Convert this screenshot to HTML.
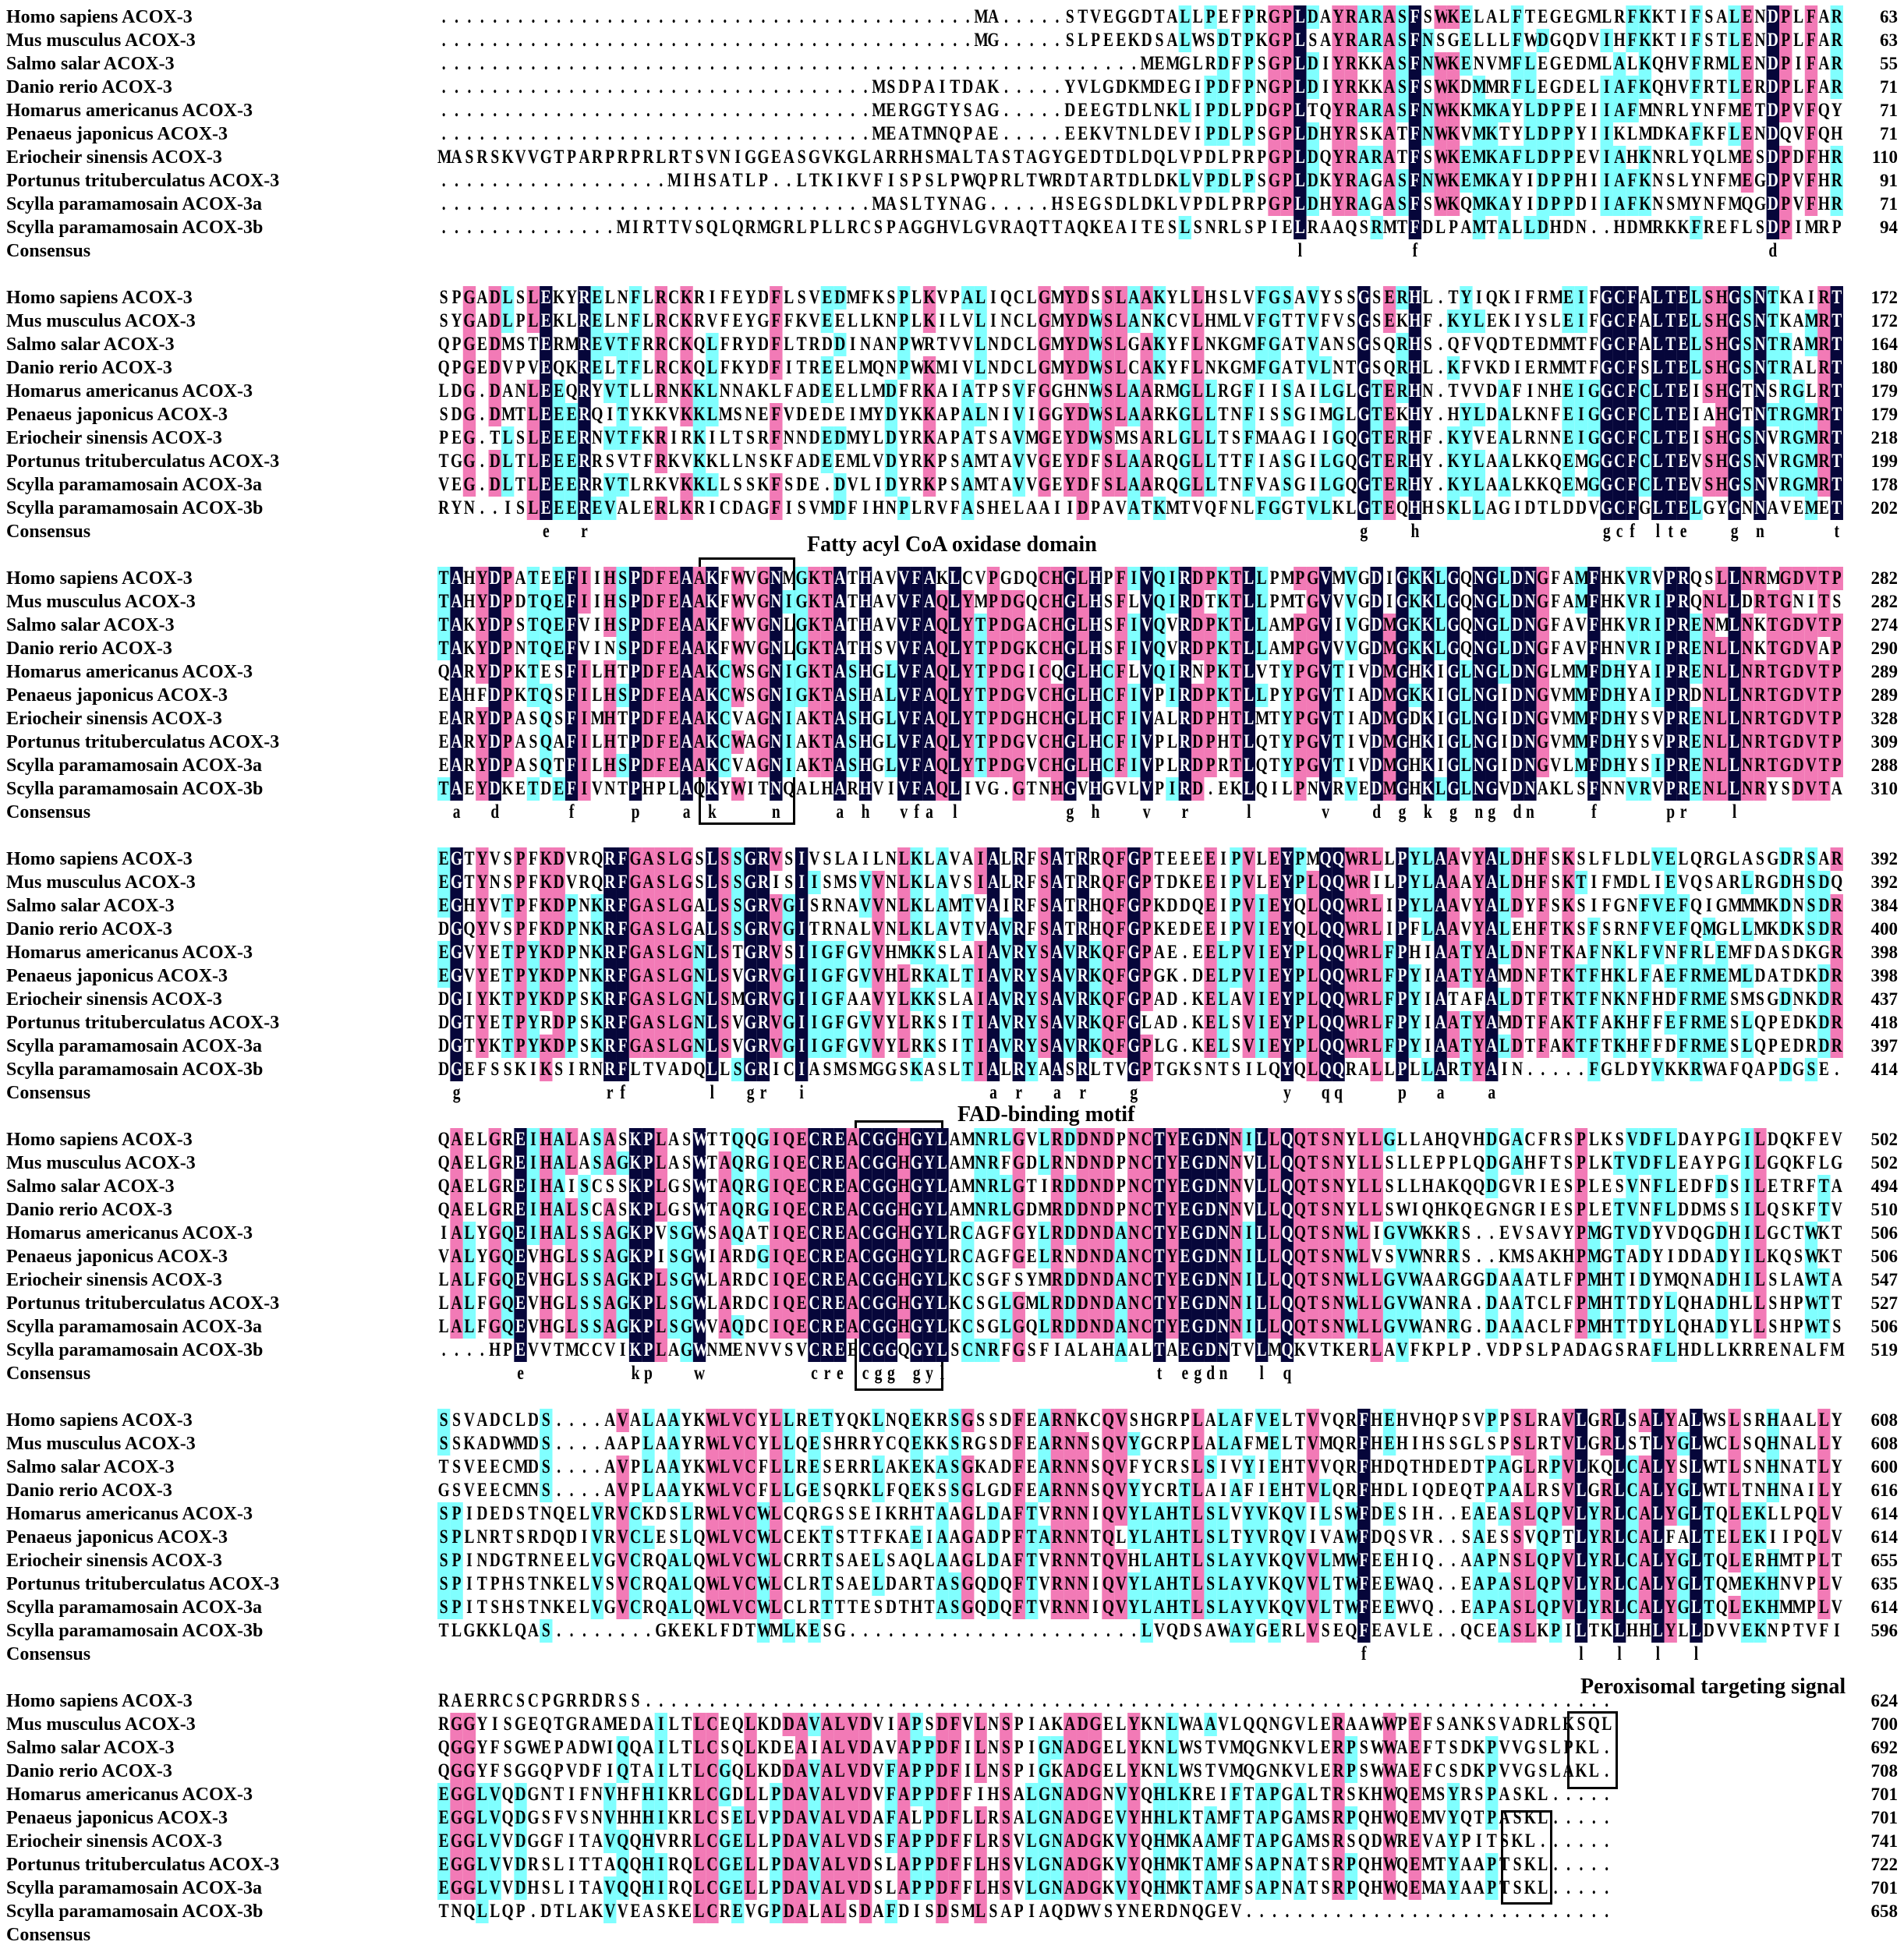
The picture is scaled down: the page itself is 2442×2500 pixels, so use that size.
<!DOCTYPE html>
<html><head><meta charset="utf-8">
<style>
html,body{margin:0;padding:0;background:#fff;}
#fig{position:relative;width:2442px;height:2500px;overflow:hidden;background:#fff;font-family:"Liberation Serif",serif;font-weight:bold;color:#000;}
.name{position:absolute;left:8px;height:30px;line-height:30px;font-size:24px;white-space:nowrap;transform:scaleX(1.0);transform-origin:left center;}
.num{position:absolute;right:8px;height:30px;line-height:30px;font-size:23px;text-align:right;}
.row{position:absolute;left:561px;height:30px;width:2310px;transform:scaleX(0.7805);transform-origin:left top;white-space:nowrap;font-size:25px;line-height:30px;}
.row span{display:inline-block;width:21px;height:30px;text-align:center;vertical-align:top;}
.nv{background:#06063a;color:#fff;}
.pk{background:#f27ab6;}
.cy{background:#80ffff;}
.box{position:absolute;border:3px solid #000;box-sizing:border-box;}
.ann{position:absolute;font-size:28px;white-space:nowrap;}
</style></head>
<body>
<div id="fig">
<div class="ann" style="left:1035px;top:683px;">Fatty acyl CoA oxidase domain</div>
<div class="box" style="left:896px;top:715px;width:124px;height:343px;"></div>
<div class="ann" style="left:1228px;top:1414px;">FAD-binding motif</div>
<div class="box" style="left:1096px;top:1437px;width:114px;height:347px;"></div>
<div class="ann" style="left:2027px;top:2148px;">Peroxisomal targeting signal</div>
<div class="box" style="left:2010px;top:2195px;width:65px;height:100px;"></div>
<div class="box" style="left:1925px;top:2322px;width:66px;height:121px;"></div>
</div>
<script>
const names=["Homo sapiens ACOX-3","Mus musculus ACOX-3","Salmo salar ACOX-3","Danio rerio ACOX-3","Homarus americanus ACOX-3","Penaeus japonicus ACOX-3","Eriocheir sinensis ACOX-3","Portunus trituberculatus ACOX-3","Scylla paramamosain ACOX-3a","Scylla paramamosain ACOX-3b"];
const block1=[
"MA.....STVEGGDTALLPEFPRGPLDAYRARASFSWKELALFTEGEGMLRFKKTIFSALENDPLFAR",
"MG.....SLPEEKDSALWSDTPKGPLSAYRARASFNSGELLLFWDGQDVIHFKKTIFSTLENDPLFAR",
"MEMGLRDFPSGPLDIYRKKASFNWKENVMFLEGEDMLALKQHVFRMLENDPIFAR",
"MSDPAITDAK.....YVLGDKMDEGIPDFPNGPLDIYRKKASFSWKDMMRFLEGDELIAFKQHVFRTLERDPLFAR",
"MERGGTYSAG.....DEEGTDLNKLIPDLPDGPLTQYRARASFNWKKMKAYLDPPEIIAFMNRLYNFMETDPVFQY",
"MEATMNQPAE.....EEKVTNLDEVIPDLPSGPLDHYRSKATFNWKVMKTYLDPPYIIKLMDKAFKFLENDQVFQH",
"MASRSKVVGTPARPRPRLRTSVNIGGEASGVKGLARRHSMALTASTAGYGEDTDLDQLVPDLPRPGPLDQYRARATFSWKEMKAFLDPPEVIAHKNRLYQLMESDPDFHR",
"MIHSATLP..LTKIKVFISPSLPWQPRLTWRDTARTDLDKLVPDLPSGPLDKYRAGASFNWKEMKAYIDPPHIIAFKNSLYNFMEGDPVFHR",
"MASLTYNAG.....HSEGSDLDKLVPDLPRPGPLDHYRAGASFSWKQMKAYIDPPDIIAFKNSMYNFMQGDPVFHR",
"MIRTTVSQLQRMGRLPLLRCSPAGGHVLGVRAQTTAQKEAITESLSNRLSPIELRAAQSRMTFDLPAMTALLDHDN..HDMRKKFREFLSDPIMRP"];
const block2=[
"SPGADLSLEKYRELNFLRCKRIFEYDFLSVEDMFKSPLKVPALIQCLGMYDSSLAAKYLLHSLVFGSAVYSSGSERHL.TYIQKIFRMEIFGCFALTELSHGSNTKAIRT",
"SYGADLPLEKLRELNFLRCKRVFEYGFFKVEELLKNPLKILVLINCLGMYDWSLANKCVLHMLVFGTTVFVSGSEKHF.KYLEKIYSLEIFGCFALTELSHGSNTKAMRT",
"QPGEDMSTERMREVTFRRCKQLFRYDFLTRDDINANPWRTVVLNDCLGMYDWSLGAKYFLNKGMFGATVANSGSQRHS.QFVQDTEDMMTFGCFALTELSHGSNTRAMRT",
"QPGEDVPVEQKRELTFLRCKQLFKYDFITREELMQNPWKMIVLNDCLGMYDWSLCAKYFLNKGMFGATVLNTGSQRHL.KFVKDIERMMTFGCFSLTELSHGSNTRALRT",
"LDG.DANLEEQRYVTLLRNKKLNNAKLFADEELLMDFRKAIATPSVFGGHNWSLAARMGLLRGFIISAILGLGTERHN.TVVDAFINHEIGGCFCLTEISHGTNSRGLRT",
"SDG.DMTLEEERQITYKKVKKLMSNEFVDEDEIMYDYKKAPALNIVIGGYDWSLAARKGLLTNFISSGIMGLGTEKHY.HYLDALKNFEIGGCFCLTEIAHGTNTRGMRT",
"PEG.TLSLEEERNVTFKRIRKILTSRFNNDEDMYLDYRKAPATSAVMGEYDWSMSARLGLLTSFMAAGIIGQGTERHF.KYVEALRNNEIGGCFCLTEISHGSNVRGMRT",
"TGG.DLTLEEERRSVTFRKVKKLLNSKFADEEMLVDYRKPSAMTAVVGEYDFSLAARQGLLTTFIASGILGQGTERHY.KYLAALKKQEMGGCFCLTEVSHGSNVRGMRT",
"VEG.DLTLEEERRVTLRKVKKLLSSKFSDE.DVLIDYRKPSAMTAVVGEYDFSLAARQGLLTNFVASGILGQGTERHY.KYLAALKKQEMGGCFCLTEVSHGSNVRGMRT",
"RYN..ISLEEEREVALERLKRICDAGFISVMDFIHNPLRVFASHELAAIIDPAVATKMTVQFNLFGGTVLKLGTEQHHSKLLAGIDTLDDVGCFGLTELGYGNNAVEMET"];
const block3=[
"TAHYDPATEEFIIHSPDFEAAKFWVGNMGKTATHAVVFAKLCVPGDQCHGLHPFIVQIRDPKTLLPMPGVMVGDIGKKLGQNGLDNGFAMFHKVRVPRQSLLNRMGDVTP",
"TAHYDPDTQEFIIHSPDFEAAKFWVGNIGKTATHAVVFAQLYMPDGQCHGLHSFLVQIRDTKTLLPMTGVVVGDIGKKLGQNGLDNGFAMFHKVRIPRQNLLDRTGNITS",
"TAKYDPSTQEFVIHSPDFEAAKFWVGNLGKTATHAVVFAQLYTPDGACHGLHSFIVQVRDPKTLLAMPGVIVGDMGKKLGQNGLDNGFAVFHKVRIPRENMLNKTGDVTP",
"TAKYDPNTQEFVINSPDFEAAKFWVGNLGKTATHSVVFAQLYTPDGKCHGLHSFIVQVRDPKTLLAMPGVVVGDMGKKLGQNGLDNGFAVFHNVRIPRENLLNKTGDVAP",
"QARYDPKTESFILHTPDFEAAKCWSGNIGKTASHGLVFAQLYTPDGICQGLHCFLVQIRNPKTLVTYPGVTIVDMGHKIGLNGLDNGLMMFDHYAIPRENLLNRTGDVTP",
"EAHFDPKTQSFILHSPDFEAAKCWSGNIGKTASHALVFAQLYTPDGVCHGLHCFIVPIRDPKTLLPYPGVTIADMGKKIGLNGIDNGVMMFDHYAIPRDNLLNRTGDVTP",
"EARYDPASQSFIMHTPDFEAAKCVAGNIAKTASHGLVFAQLYTPDGHCHGLHCFIVALRDPHTLMTYPGVTIADMGDKIGLNGIDNGVMMFDHYSVPRENLLNRTGDVTP",
"EARYDPASQAFILHTPDFEAAKCWAGNIAKTASHGLVFAQLYTPDGVCHGLHCFIVPLRDPHTLQTYPGVTIVDMGHKIGLNGIDNGVMMFDHYSVPRENLLNRTGDVTP",
"EARYDPASQTFILHSPDFEAAKCVAGNIAKTASHGLVFAQLYTPDGVCHGLHCFIVPLRDPRTLQTYPGVTIVDMGHKIGLNGIDNGVLMFDHYSIPRENLLNRTGDVTP",
"TAEYDKETDEFIVNTPHPLAQKYWITNQALHARHVIVFAQLIVG.GTNHGVHGVLVPIRD.EKLQILPNVRVEDMGHKLGLNGVDNAKLSFNNVRVPRENLLNRYSDVTA"];
const block4=[
"EGTYVSPFKDVRQRFGASLGSLSSGRVSIVSLAILNLKLAVAIALRFSATRRQFGPTEEEEIPVLEYPMQQWRLLPYLAAVYALDHFSKSLFLDLVELQRGLASGDRSAR",
"EGTYNSPFKDVRQRFGASLGSLSSGRISIISMSVVNLKLAVSIALRFSATRRQFGPTDKEEIPVLEYPLQQWRILPYLAAAYALDHFSKTIFMDLIEVQSARLRGDHSDQ",
"EGHYVTPFKDPNKRFGASLGALSSGRVGISRNAVVNLKLAMTVAIRFSATRHQFGPKDDQEIPVIEYQLQQWRLIPYLAAVYALDYFSKSIFGNFVEFQIGMMMKDNSDR",
"DGQYVSPFKDPNKRFGASLGALSSGRVGITRNALVNLKLAVTVAVRFSATRHQFGPKEDEEIPVIEYQLQQWRLIPFLAAVYALEHFTKSFSRNFVEFQMGLLMKDKSDR",
"EGVYETPYKDPNKRFGASLGNLSTGRVSIIGFGVVHMKKSLAIAVRYSAVRKQFGPAE.EELPVIEYPLQQWRLFPHIAATYALDNFTKAFNKLFVNFRLEMFDASDKGR",
"EGVYETPYKDPNKRFGASLGNLSVGRVGIIGFGVVHLRKALTIAVRYSAVRKQFGPGK.DELPVIEYPLQQWRLFPYIAATYAMDNFTKTFHKLFAEFRMEMLDATDKDR",
"DGIYKTPYKDPSKRFGASLGNLSMGRVGIIGFAAVYLKKSLAIAVRYSAVRKQFGPAD.KELAVIEYPLQQWRLFPYIATAFALDTFTKTFNKNFHDFRMESMSGDNKDR",
"DGTYETPYRDPSKRFGASLGNLSVGRVGIIGFGVVYLRKSITIAVRYSAVRKQFGLAD.KELSVIEYPLQQWRLFPYIAATYAMDTFAKTFAKHFFEFRMESLQPEDKDR",
"DGTYKTPYKDPSKRFGASLGNLSVGRVGIIGFGVVYLRKSITIAVRYSAVRKQFGPLG.KELSVIEYPLQQWRLFPYIAATYALDTFAKTFTKHFFDFRMESLQPEDRDR",
"DGEFSSKIKSIRNRFLTVADQLLSGRICIASMSMGGSKASLTIALRYAASRLTVGPTGKSNTSILQYQLQQRALLPLLARTYAIN.....FGLDYVKKRWAFQAPDGSE."];
const block5=[
"QAELGREIHALASASKPLASWTTQQGIQECREACGGHGYLAMNRLGVLRDDNDPNCTYEGDNNILLQQTSNYLLGLLAHQVHDGACFRSPLKSVDFLDAYPGILDQKFEV",
"QAELGREIHALASAGKPLASWTAQRGIQECREACGGHGYLAMNRFGDLRNDNDPNCTYEGDNNVLLQQTSNYLLSLLEPPLQDGAHFTSPLKTVDFLEAYPGILGQKFLG",
"QAELGREIHAISCSSKPLGSWTAQRGIQECREACGGHGYLAMNRLGTIRDDNDPNCTYEGDNNVLLQQTSNYLLSLLHAKQQDGVRIESPLESVNFLEDFDSILETRFTA",
"QAELGREIHALSCASKPLGSWTAQRGIQECREACGGHGYLAMNRLGDMRDDNDPNCTYEGDNNVLLQQTSNYLLSWIQHKQEGNGRIESPLETVNFLDDMSSILQSKFTV",
"IALYGQEIHALSSAGKPVSGWSAQATIQECREACGGHGYLRCAGFGYLRDDNDANCTYEGDNNILLQQTSNWLIGVWKKRS..EVSAVYPMGTVDYVDQGDHILGCTWKT",
"VALYGQEVHGLSSAGKPISGWIARDGIQECREACGGHGYLRCAGFGELRNDNDANCTYEGDNNILLQQTSNWLVSVWNRRS..KMSAKHPMGTADYIDDADYILKQSWKT",
"LALFGQEVHGLSSAGKPLSGWLARDCIQECREACGGHGYLKCSGFSYMRDDNDANCTYEGDNNILLQQTSNWLLGVWAARGGDAAATLFPMHTIDYMQNADHILSLAWTA",
"LALFGQEVHGLSSAGKPLSGWLARDCIQECREACGGHGYLKCSGLGMLRDDNDANCTYEGDNNILLQQTSNWLLGVWANRA.DAATCLFPMHTTDYLQHADHLLSHPWTT",
"LALFGQEVHGLSSAGKPLSGWVAQDCIQECREACGGHGYLKCSGLGQLRDDNDANCTYEGDNNILLQQTSNWLLGVWANRG.DAAACLFPMHTTDYLQHADYLLSHPWTS",
"....HPEVVTMCCVIKPLAGWNMENVVSVCREECGGQGYLSCNRFGSFIALAHAALTAEGDNTVLMQKVTKERLAVFKPLP.VDPSLPADAGSRAFLHDLLKRRENALFM"];
const block6=[
"SSVADCLDS....AVALAAYKWLVCYLLRETYQKLNQEKRSGSSDFEARNKCQVSHGRPLALAFVELTVVQRFHEHVHQPSVPPSLRAVLGRLSALYALWSLSRHAALLY",
"SSKADWMDS....AAPLAAYRWLVCYLLQESHRRYCQEKKSRGSDFEARNNSQVYGCRPLALAFMELTVMQRFHEHIHSSGLSPSLRTVLGRLSTLYGLWCLSQHNALLY",
"TSVEECMDS....AVPLAAYKWLVCFLLRESERRLAKEKASGKADFEARNNSQVFYCRSLSIVYIEHTVVQRFHDQTHDEDTPAGLRPVLKQLCALYSLWTLSNHNATLY",
"GSVEECMNS....AVPLAAYKWLVCFLLGESQRKLFQEKSSGLGDFEARNNSQVYYCRTLAIAFIEHTVLQRFHDLIQDEQTPAALRSVLGRLCALYGLWTLTNHNAILY",
"SPIDEDSTNQELVRVCKDSLRWLVCWLCQRGSSEIKRHTAAGLDAFTVRNNIQVYLAHTLSLVYVKQVILSWFDESIH..EAEASLQPVLYRLCALYGLTQLEKLLPQLV",
"SPLNRTSRDQDIVRVCLESLQWLVCWLCEKTSTTFKAEIAAGADPFTARNNTQLYLAHTLSLTYVRQVIVAWFDQSVR..SAESSVQPTLYRLCALFALTELEKIIPQLV",
"SPINDGTRNEELVGVCRQALQWLVCWLCRRTSAELSAQLAAGLDAFTVRNNTQVHLAHTLSLAYVKQVVLMWFEEHIQ..AAPNSLQPVLYRLCALYGLTQLERHMTPLT",
"SPITPHSTNKELVSVCRQALQWLVCWLCLRTSAELDARTASGQDQFTVRNNIQVYLAHTLSLAYVKQVVLTWFEEWAQ..EAPASLQPVLYRLCALYGLTQMEKHNVPLV",
"SPITSHSTNKELVGVCRQALQWLVCWLCLRTTTESDTHTASGQDQFTVRNNIQVYLAHTLSLAYVKQVVLTWFEEWVQ..EAPASLQPVLYRLCALYGLTQLEKHMMPLV",
"TLGKKLQAS........GKEKLFDTWMLKESG.......................LVQDSAWAYGERLVSEQFEAVLE..QCEASLKPILTKLHHLYLLDVVEKNPTVFI"];
const block7=[
"RAERRCSCPGRRDRSS",
"RGGYISGEQTGRAMEDAILTLCEQLKDDAVALVDVIAPSDFVLNSPIAKADGELYKNLWAAVLQQNGVLERAAWWPEFSANKSVADRLKSQL",
"QGGYFSGWEPADWIQQAILTLCSQLKDEAIALVDAVAPPDFILNSPIGNADGELYKNLWSTVMQGNKVLERPSWWAEFTSDKPVVGSLPKL",
"QGGYFSGGQPVDFIQTAILTLCGQLKDDAVALVDVFAPPDFILNSPIGKADGELYKNLWSTVMQGNKVLERPSWWAEFCSDKPVVGSLAKL",
"EGGLVQDGNTIFNVHFHIKRLCGDLLPDAVALVDVFAPPDFFIHSALGNADGNVYQHLKREIFTAPGALTRSKHWQEMSYRSPASKL",
"EGGLVQDGSFVSNVHHHIKRLCSELVPDAVALVDAFALPDFLLRSALGNADGEVYHHLKTAMFTAPGAMSRPQHWQEMVYQTPASKL",
"EGGLVVDGGFITAVQQHVRRLCGELLPDAVALVDSFAPPDFFLRSVLGNADGKVYQHMKAAMFTAPGAMSRSQDWREVAYPITSKL",
"EGGLVVDRSLITTAQQHIRQLCGELLPDAVALVDSLAPPDFFLHSVLGNADGKVYQHMKTAMFSAPNATSRPQHWQEMTYAAPTSKL",
"EGGLVVDHSLITAVQQHIRQLCGELLPDAVALVDSLAPPDFFLHSVLGNADGKVYQHMKTAMFSAPNATSRPQHWQEMAYAAPTSKL",
"TNQLLQP.DTLAKVVEASKELCREVGPDALALSDAFDISDSMLSAPIAQDWVSYNERDNQGEV"];
const numbers1=[63,63,55,71,71,71,110,91,71,94];
const numbers2=[172,172,164,180,179,179,218,199,178,202];
const numbers3=[282,282,274,290,289,289,328,309,288,310];
const numbers4=[392,392,384,400,398,398,437,418,397,414];
const numbers5=[502,502,494,510,506,506,547,527,506,519];
const numbers6=[608,608,600,616,614,614,655,635,614,596];
const numbers7=[624,700,692,708,701,701,741,722,701,658];

const blocks=[block1,block2,block3,block4,block5,block6,block7];
const nums=[numbers1,numbers2,numbers3,numbers4,numbers5,numbers6,numbers7];
const fig=document.getElementById('fig');

function normalize(rows,bi){
  return rows.map(function(s){
    if(bi===0){ s=s.length>110?s.slice(s.length-110):s.padStart(110,'.'); }
    else if(bi===6){ s=s.length>92?s.slice(0,92):s.padEnd(92,'.'); }
    else { s=s.length>110?s.slice(0,110):s.padEnd(110,'.'); }
    return s;
  });
}

blocks.forEach(function(raw,bi){
  const rows=normalize(raw,bi);
  const top=7+360*bi;
  const L=rows[0].length;
  const cls=[];const cons=[];
  for(let c=0;c<L;c++){
    const cnt={};
    rows.forEach(function(r){const ch=r[c];if(ch!=='.'){cnt[ch]=(cnt[ch]||0)+1;}});
    let best='',n=0;
    for(const k in cnt){if(cnt[k]>n){n=cnt[k];best=k;}}
    let k='';
    if(n===10)k='nv';else if(n>=8)k='pk';else if(n>=5)k='cy';
    cls.push([best,k]);
    cons.push(n===10?best.toLowerCase():' ');
  }
  for(let r=0;r<11;r++){
    const y=top+30*r;
    const nm=document.createElement('div');
    nm.className='name';
    nm.style.top=y+'px';
    nm.textContent=r<10?names[r]:'Consensus';
    
    
    fig.appendChild(nm);
    const row=document.createElement('div');
    row.className='row';
    row.style.top=y+'px';
    
    
    for(let c=0;c<L;c++){
      const sp=document.createElement('span');
      if(r<10){
        const ch=rows[r][c];
        sp.textContent=ch;
        if(ch!=='.'&&ch===cls[c][0]&&cls[c][1])sp.className=cls[c][1];
      } else {
        sp.textContent=cons[c];
      }
      
      
      row.appendChild(sp);
    }
    fig.appendChild(row);
    if(r<10){
      const nu=document.createElement('div');
      nu.className='num';
      nu.style.top=y+'px';
      nu.textContent=nums[bi][r];
      
      
      fig.appendChild(nu);
    }
  }
});
</script>
</body></html>
